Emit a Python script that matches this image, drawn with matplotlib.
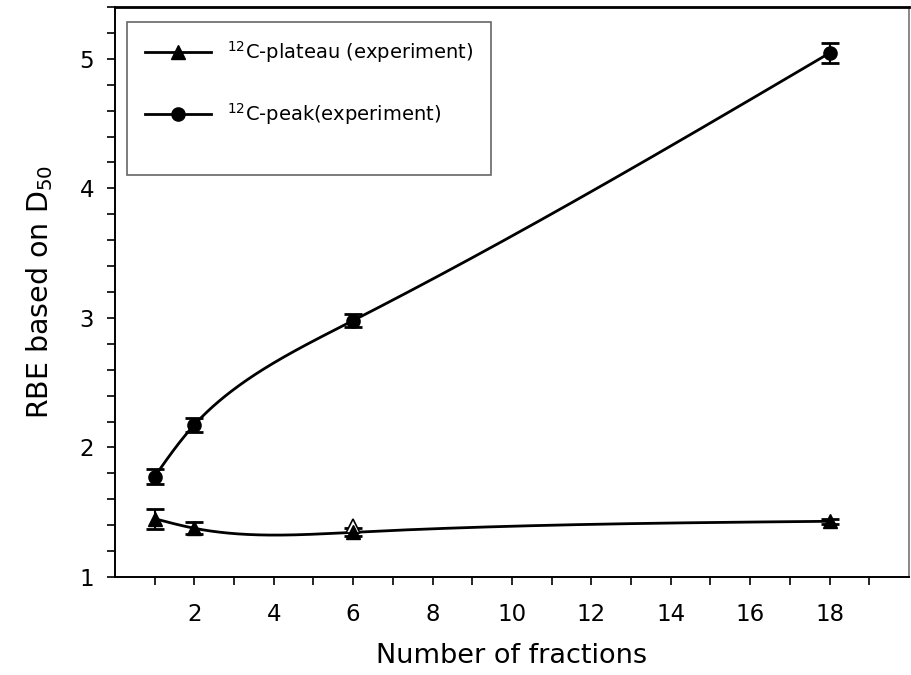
import numpy as np
import matplotlib
matplotlib.use('Agg')
import matplotlib.pyplot as plt
from matplotlib.lines import Line2D
from matplotlib.ticker import MultipleLocator, FixedLocator

# values
fractions = [1, 2, 6, 18]
plateau_rbe = [1.45, 1.376, 1.345, 1.43]
plateau_err = [0.077, 0.047, 0.03, 0.02]
peak_rbe = [1.775, 2.175, 2.98, 5.045]
peak_err = [0.06, 0.055, 0.05, 0.08]
# stray open triangle left in the original figure
open_x = [6]
open_rbe = [1.39]

plateau_label = r'$^{12}$C-plateau (experiment)'
peak_label = r'$^{12}$C-peak(experiment)'


def natural_spline_1d(t, y, ts):
    """Natural cubic spline of y(t), evaluated at ts."""
    k = len(t)
    h = np.diff(t)
    a = np.zeros((k, k))
    b = np.zeros(k)
    a[0, 0] = a[-1, -1] = 1
    for i in range(1, k - 1):
        a[i, i - 1] = h[i - 1]
        a[i, i] = 2 * (h[i - 1] + h[i])
        a[i, i + 1] = h[i]
        b[i] = 3 * ((y[i + 1] - y[i]) / h[i] - (y[i] - y[i - 1]) / h[i - 1])
    c = np.linalg.solve(a, b)
    idx = np.clip(np.searchsorted(t, ts) - 1, 0, k - 2)
    dt = ts - t[idx]
    bb = (y[idx + 1] - y[idx]) / h[idx] - h[idx] * (2 * c[idx] + c[idx + 1]) / 3
    dd = (c[idx + 1] - c[idx]) / (3 * h[idx])
    return y[idx] + bb * dt + c[idx] * dt ** 2 + dd * dt ** 3


def smooth_curve(ax, x, y, n=500):
    """Parametric spline (chord length in screen space) through the data points."""
    pts = ax.transData.transform(np.column_stack([x, y]))
    t = np.concatenate([[0], np.cumsum(np.hypot(*np.diff(pts, axis=0).T))])
    ts = np.linspace(0, t[-1], n)
    px = natural_spline_1d(t, pts[:, 0], ts)
    py = natural_spline_1d(t, pts[:, 1], ts)
    data = ax.transData.inverted().transform(np.column_stack([px, py]))
    return data[:, 0], data[:, 1]


def main():
    fig = plt.figure(figsize=(9.11, 6.75), dpi=100)
    ax = fig.add_axes([0.1262, 0.1452, 0.8716, 0.8444])
    ax.set_xlim(0, 20)
    ax.set_ylim(1, 5.4)

    lw = 2.0
    xs, ys = smooth_curve(ax, fractions, plateau_rbe)
    ax.plot(xs, ys, color='black', lw=lw)
    xs, ys = smooth_curve(ax, fractions, peak_rbe)
    ax.plot(xs, ys, color='black', lw=lw)

    ax.errorbar(fractions, plateau_rbe, yerr=plateau_err, fmt='^', color='black', ms=10,
                elinewidth=1.5, capsize=6.5, capthick=2)
    ax.errorbar(fractions, peak_rbe, yerr=peak_err, fmt='o', color='black', ms=9.5,
                elinewidth=1.5, capsize=6.5, capthick=2)
    ax.plot(open_x, open_rbe, ls='None', marker='^', ms=10, mfc='white', mec='black', mew=1.2)

    ax.xaxis.set_major_locator(FixedLocator(range(2, 19, 2)))
    ax.xaxis.set_minor_locator(FixedLocator(range(1, 20, 2)))
    ax.yaxis.set_major_locator(MultipleLocator(1))
    ax.yaxis.set_minor_locator(MultipleLocator(0.2))
    ax.tick_params(which='both', direction='out', length=6, width=1.2, color='black')
    ax.tick_params(axis='x', which='major', labelsize=16.5, pad=13)
    ax.tick_params(axis='y', which='major', labelsize=16.5, pad=9)

    for side in ['left', 'bottom']:
        ax.spines[side].set_linewidth(1.4)
    ax.spines['top'].set_linewidth(2)
    ax.spines['right'].set_color('#888888')
    ax.spines['right'].set_linewidth(1.4)

    ax.set_xlabel('Number of fractions', fontsize=19.5, labelpad=12)
    ax.set_ylabel(r'RBE based on D$_{50}$', fontsize=20.5, labelpad=18)

    # legend has two blank rows (the original had four entries)
    handles = [
        Line2D([], [], color='black', lw=lw, marker='^', ms=10),
        Line2D([], [], color='none'),
        Line2D([], [], color='black', lw=lw, marker='o', ms=9.5),
        Line2D([], [], color='none'),
    ]
    labels = [plateau_label, plateau_label, peak_label, peak_label]
    leg = ax.legend(handles, labels, loc='upper left', bbox_to_anchor=(127 / 911, 1 - 22 / 675),
                    bbox_transform=fig.transFigure, borderaxespad=0, fontsize=14, frameon=True,
                    fancybox=False, edgecolor='#666666', framealpha=1, borderpad=0.9,
                    handlelength=3.4, handletextpad=0.85, labelspacing=0.25)
    leg.get_frame().set_linewidth(1.2)
    for i in (1, 3):
        leg.get_texts()[i].set_color('none')

    fig.savefig('out.png', dpi=100)


if __name__ == '__main__':
    main()
